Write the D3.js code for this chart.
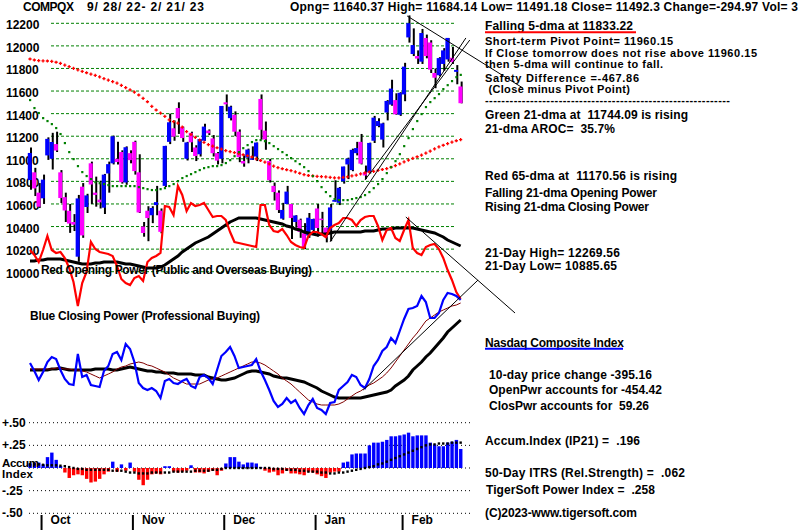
<!DOCTYPE html>
<html><head><meta charset="utf-8">
<script src="https://cdn.jsdelivr.net/npm/d3@7"></script>
<style>
html,body{margin:0;padding:0;background:#fff;}
svg{display:block;}
text{font-family:"Liberation Sans",Arial,sans-serif;font-weight:bold;font-size:12px;fill:#000;}
</style></head><body>
<svg id="c" width="800" height="530"></svg>
<script>
// ---------------- DATA ----------------
const dates = ["9/28","9/29","9/30","10/3","10/4","10/5","10/6","10/7","10/10","10/11",
"10/12","10/13","10/14","10/17","10/18","10/19","10/20","10/21","10/24","10/25",
"10/26","10/27","10/28","10/31","11/1","11/2","11/3","11/4","11/7","11/8",
"11/9","11/10","11/11","11/14","11/15","11/16","11/17","11/18","11/21","11/22",
"11/23","11/25","11/28","11/29","11/30","12/1","12/2","12/5","12/6","12/7",
"12/8","12/9","12/12","12/13","12/14","12/15","12/16","12/19","12/20","12/21",
"12/22","12/23","12/27","12/28","12/29","12/30","1/3","1/4","1/5","1/6",
"1/9","1/10","1/11","1/12","1/13","1/17","1/18","1/19","1/20","1/23",
"1/24","1/25","1/26","1/27","1/30","1/31","2/1","2/2","2/3","2/6",
"2/7","2/8","2/9","2/10","2/13","2/14","2/15","2/16","2/17","2/21"];

const open = [10812,10880,10700,10650,11030,11000,11130,10880,10660,10540,
10440,10133,10753,10573,10960,10700,10638,10567,10870,10960,
11000,11060,10790,11050,11150,10880,10400,10540,10500,10590,
10540,10760,11150,11270,11450,11280,11000,11230,11100,11040,
11160,11250,11180,11050,11000,11500,11360,11390,11240,10980,
11010,11000,11020,11530,11250,10980,10760,10700,10470,10600,
10600,10440,10460,10340,10320,10370,10560,10470,10390,10370,
10620,10610,10800,10950,10900,11050,11150,10880,10880,11160,
11290,11170,11410,11480,11520,11390,11570,12075,11928,11910,
11860,12070,12030,11760,11740,11840,11880,11895,11770,11640.37];

const high = [11100,10920,10785,10860,11190,11230,11240,10900,10700,10600,
10510,10680,10785,10690,10975,10842,10806,10866,10975,11205,
11150,11075,11110,11075,11160,11040,10440,10580,10580,10760,
10560,11115,11400,11340,11500,11285,11150,11240,11120,11175,
11310,11260,11210,11060,11468,11570,11470,11420,11260,11030,
11090,11110,11144,11570,11330,11000,10790,10720,10610,10760,
10600,10500,10470,10430,10520,10470,10600,10530,10390,10600,
10810,10750,10930,11010,11090,11150,11220,10940,11143,11380,
11360,11320,11520,11700,11580,11590,11850,12270,12155,11960,
12150,12100,12050,11800,11900,11980,12070,11990,11830,11684.14];

const low = [10726,10670,10565,10600,10990,10905,11060,10608,10440,10344,
10360,10088,10300,10520,10600,10576,10560,10511,10700,10950,
10950,10780,10770,10960,10860,10520,10310,10270,10430,10500,
10340,10750,11130,11160,11220,11150,10985,11060,10980,11020,
11160,11210,11020,10950,10960,11420,11340,11200,10970,10930,
10960,10990,10980,11170,11080,10790,10630,10520,10460,10600,
10290,10390,10300,10200,10300,10350,10310,10340,10260,10270,
10620,10590,10780,10820,10890,11030,10950,10820,10870,11140,
11280,11100,11340,11470,11390,11380,11510,12029,11910,11840,
11840,11890,11760,11625,11730,11780,11860,11840,11660,11491.18];

const close = [11051.64,10737.51,10575.62,10815.43,11176.41,11148.64,11073.31,10652.41,10542.10,10426.19,
10417.10,10649.15,10321.39,10675.80,10772.40,10680.51,10614.84,10859.72,10952.61,11199.12,
10970.99,10792.68,11102.45,10988.15,10890.85,10524.80,10342.94,10475.25,10564.52,10616.20,
10353.17,11114.15,11323.33,11196.22,11358.41,11183.66,11144.96,11146.06,11024.51,11174.41,
11285.32,11226.36,11049.50,10983.78,11468.00,11482.45,11461.50,11239.94,11014.89,10958.55,
11082.00,11004.62,11143.74,11256.81,11170.89,10810.53,10705.41,10546.03,10547.11,10709.37,
10476.12,10497.86,10353.23,10213.29,10478.09,10466.48,10386.98,10458.76,10305.24,10569.29,
10635.65,10742.63,10931.67,11001.10,11079.16,11095.11,10957.01,10852.27,11140.43,11364.41,
11334.27,11313.36,11512.41,11621.71,11393.81,11584.55,11816.32,12200.82,12006.95,11887.45,
12113.79,11910.52,11789.58,11718.12,11891.79,11960.15,12070.59,11855.83,11787.27,11492.30];

// green 21-dma
const ma21 = [11521,11450,11406,11361,11335,11308,11273,11220,11140,11060,
10998,10936,10883,10848,10821,10794,10785,10777,10768,10759,
10759,10759,10759,10759,10759,10750,10741,10732,10724,10724,
10732,10741,10759,10777,10803,10830,10848,10865,10883,10901,
10918,10927,10936,10936,10945,10963,10989,11024,11060,11095,
11122,11149,11166,11166,11157,11140,11113,11087,11060,11034,
11007,10980,10954,10927,10892,10848,10803,10750,10706,10670,
10644,10635,10635,10635,10644,10653,10662,10679,10706,10741,
10777,10821,10874,10927,10980,11042,11113,11184,11264,11335,
11397,11459,11503,11538,11574,11618,11653,11689,11724,11744.09];

// red 65-dma
const ma65 = [11884,11875,11870,11868,11866,11862,11855,11845,11830,11816,
11800,11787,11775,11762,11750,11738,11725,11710,11697,11684,
11670,11650,11630,11610,11590,11565,11535,11505,11465,11432,
11405,11375,11345,11330,11315,11280,11240,11215,11190,11166,
11145,11126,11112,11098,11085,11072,11063,11054,11045,11036,
11027,11016,11000,10985,10970,10955,10935,10922,10912,10903,
10895,10884,10872,10860,10852,10848,10845,10842,10839,10835,
10831,10831,10835,10840,10848,10856,10866,10875,10883,10889,
10897,10905,10913,10925,10940,10955,10972,10988,11003,11018,
11032,11050,11068,11087,11105,11120,11135,11148,11160,11170.56];

// Red Opening Power (relative units) and its moving average
const openPower = [50,45,38,50,64,50,47,48,42,32,
18,-6,17,28,58,51,48,47,46,44,
34,21,17,15,22,24,19,38,42,44,
47,94,93,85,114,105,89,97,94,95,
97,90,83,84,84,80,68,58,57,56,
55,54,53,95,95,75,69,68,71,65,
58,55,53,52,64,68,68,66,63,72,
75,77,82,82,80,74,80,83,84,84,
74,60,70,72,62,59,70,80,52,47,
45,53,55,56,51,42,30,20,8,1];

const openPowerMA = [39,39,40,40,41,41,41,41,40,39,
38,37,36,36,36,37,37,38,38,38,
38,37,36,36,35,34,33,32,32,32,
33,35,38,41,44,48,51,54,57,59,
61,63,66,69,72,75,78,80,82,82,
82,82,82,81,80,79,78,77,76,74,
73,71,70,68,67,66,65,66,66,67,
68,68,68,68,68,68,68,69,69,69,
70,71,71,71,72,72,72,72,72,71,
70,69,68,67,65,63,60,58,56,54];

// Blue Closing Power (relative units), its 21-dma (maroon) and longer MA (black)
const closePower = [-3,-11,-20,-12,-2,3,1,-10,-19,-24,
-25,6,-17,-15,-25,-26,-27,-11,-6,6,
8,0,16,11,-2,-23,-28,-30,-28,-31,
-38,-21,-19,-23,-24,-21,-19,-26,-28,-17,
-15,-18,-24,-10,4,8,13,4,-8,-7,
-6,-5,1,-11,-20,-30,-41,-47,-44,-38,
-43,-40,-48,-54,-45,-39,-48,-50,-54,-43,
-42,-30,-26,-22,-15,-17,-25,-28,-19,-6,
0,9,13,22,17,29,41,51,52,54,
64,58,42,42,47,60,67,66,64,60];

const closePowerMA21 = [-9,-9,-9,-9,-9,-9,-8,-8,-9,-9,
-10,-10,-11,-12,-14,-16,-18,-16,-14,-12,
-9,-7,-6,-4,-3,-2,-3,-5,-6,-8,
-10,-12,-15,-18,-20,-22,-24,-24,-24,-24,
-22,-20,-19,-18,-16,-14,-12,-10,-8,-6,
-4,-2,-2,-3,-5,-8,-11,-14,-18,-21,
-24,-28,-32,-36,-40,-42,-44,-45,-45,-45,
-45,-44,-42,-39,-36,-33,-31,-28,-25,-23,
-20,-17,-13,-8,-2,4,10,16,22,27,
33,39,42,45,48,50,52,54,55,57];

const closePowerMA = [-10,-10,-10,-10,-10,-9,-9,-8,-9,-10,
-10,-10,-10,-10,-10,-9,-9,-9,-9,-10,
-10,-9,-8,-7,-8,-9,-10,-11,-11,-12,
-12,-13,-13,-13,-14,-14,-14,-14,-15,-15,
-15,-17,-18,-19,-20,-20,-19,-18,-16,-14,
-12,-11,-11,-12,-13,-14,-16,-17,-18,-18,
-19,-20,-21,-22,-24,-26,-28,-31,-33,-35,
-37,-38,-38,-38,-38,-38,-38,-37,-36,-35,
-34,-33,-32,-30,-26,-23,-20,-16,-10,-6,
-2,3,7,12,17,22,28,32,36,40];

// Accumulation Index (IP21) and its moving average
const accum = [0.05,0.06,0.06,0.04,0.12,0.17,0.09,0.02,-0.05,-0.11,
-0.08,-0.07,-0.08,-0.12,-0.16,-0.15,-0.12,-0.07,-0.04,0.07,
-0.04,0.04,-0.03,0.06,-0.04,-0.13,-0.19,-0.13,-0.07,-0.06,
-0.07,0.02,0.02,-0.04,-0.05,-0.04,-0.03,0.03,-0.05,-0.05,
-0.06,-0.04,-0.03,-0.08,-0.03,0.05,0.12,0.12,0.07,0.04,
0.06,0.06,0.05,0.01,-0.03,-0.05,-0.04,-0.08,-0.06,-0.03,
-0.06,-0.06,-0.07,-0.08,-0.04,-0.05,-0.07,-0.09,-0.11,-0.05,
-0.04,-0.04,0.06,0.07,0.15,0.16,0.16,0.16,0.25,0.28,
0.28,0.29,0.31,0.35,0.35,0.36,0.37,0.39,0.35,0.36,
0.36,0.36,0.28,0.26,0.24,0.24,0.28,0.29,0.31,0.21];

const accumMA = [0.04,0.04,0.04,0.035,0.03,0.03,0.03,0.025,0.02,0.01,
0.0,-0.01,-0.01,-0.02,-0.02,-0.02,-0.02,-0.02,-0.02,-0.03,
-0.03,-0.03,-0.04,-0.05,-0.05,-0.06,-0.06,-0.06,-0.05,-0.05,
-0.05,-0.05,-0.05,-0.04,-0.04,-0.04,-0.04,-0.04,-0.03,-0.03,
-0.03,-0.03,-0.02,-0.02,-0.01,0,0,0,0,0,
0,0,0,0,0,0,-0.01,-0.01,-0.01,-0.02,
-0.02,-0.02,-0.03,-0.03,-0.04,-0.04,-0.04,-0.05,-0.05,-0.06,
-0.06,-0.05,-0.05,-0.04,-0.03,-0.02,-0.01,0,0.01,0.02,
0.04,0.05,0.07,0.09,0.11,0.13,0.15,0.17,0.19,0.21,
0.23,0.25,0.26,0.26,0.27,0.27,0.27,0.28,0.28,0.28];

const priceTicks = [12200,12000,11800,11600,11400,11200,11000,10800,10600,10400,10200,10000];
const accumTicks = [0.5,0.25,0,-0.25,-0.5];
const accumTickLabels = ["+.50","+.25","","-.25","-.50"];
const monthTicks = [{m:"Oct",i:3},{m:"Nov",i:24},{m:"Dec",i:45},{m:"Jan",i:66},{m:"Feb",i:86}];

// trend lines as [dayIndex, value] pairs
const priceTrends = [[[86.7,12265],[113.3,11627]],[[69,10265],[100.2,12070]],[[77,10812],[101.1,12052]]];
const opTrend = [[86.4,83],[111.5,-13]];
const cpTrend = [[76.6,-30],[103,80]];

// ---------------- DRAW ----------------
const svg = d3.select("#c");
const x = d3.scaleLinear().domain([0,99]).range([30,460.65]);
const yP = d3.scaleLinear().domain([10000,12200]).range([271.7,23.3]);
const yOP = d3.scaleLinear().domain([-100,100]).range([400,200]);
const yCP = d3.scaleLinear().domain([-100,100]).range([460,260]);
const yA = d3.scaleLinear().domain([-0.5,0.5]).range([513.3,422.7]);

// price gridlines
svg.append("g").selectAll("line").data(priceTicks).join("line")
  .attr("x1",51).attr("x2",454).attr("y1",d=>yP(d)).attr("y2",d=>yP(d))
  .attr("stroke","#008000").attr("stroke-width",1).attr("stroke-dasharray","3,2");
svg.append("g").selectAll("text").data(priceTicks).join("text")
  .attr("x",6).attr("y",d=>yP(d)+6).text(d=>d);

// accum gridlines
svg.append("g").selectAll("line").data(accumTicks).join("line")
  .attr("x1",29).attr("x2",472).attr("y1",d=>yA(d)).attr("y2",d=>yA(d))
  .attr("stroke","#000").attr("stroke-width",1).attr("stroke-dasharray","1,3");

// candles
const cg = svg.append("g");
d3.range(close.length).forEach(i=>{
  const cx = x(i);
  cg.append("line").attr("x1",cx+1).attr("x2",cx+1).attr("y1",yP(high[i])).attr("y2",yP(low[i]))
    .attr("stroke","#000").attr("stroke-width",2);
  const top = yP(Math.max(open[i],close[i])), bot = yP(Math.min(open[i],close[i]));
  cg.append("rect").attr("x",cx-2.2).attr("width",4).attr("y",top).attr("height",Math.max(1.5,bot-top))
    .attr("fill", close[i]>=open[i] ? "#0000ff" : "#ff00ff");
});

// 65-dma red pluses
const pg = svg.append("g");
ma65.forEach((v,i)=>{
  const cx=x(i), cy=yP(v);
  pg.append("path").attr("d",`M${cx-1.6},${cy}H${cx+1.6}M${cx},${cy-1.6}V${cy+1.6}`)
    .attr("stroke","#ff0000").attr("stroke-width",1.3).attr("fill","none");
});
// 21-dma green dots
svg.append("g").selectAll("rect").data(ma21).join("rect")
  .attr("x",(d,i)=>x(i)-1).attr("y",d=>yP(d)-1).attr("width",2.2).attr("height",2.2).attr("fill","#008000");

// opening power
const lineOP = d3.line().x((d,i)=>x(i)).y(d=>yOP(d));
svg.append("path").attr("d",lineOP(openPowerMA)).attr("fill","none").attr("stroke","#000").attr("stroke-width",3);
svg.append("path").attr("d",lineOP(openPower)).attr("fill","none").attr("stroke","#ff0000").attr("stroke-width",2.2);

// closing power
const lineCP = d3.line().x((d,i)=>x(i)).y(d=>yCP(d));
svg.append("path").attr("d",lineCP(closePowerMA)).attr("fill","none").attr("stroke","#000").attr("stroke-width",3);
svg.append("path").attr("d",lineCP(closePowerMA21)).attr("fill","none").attr("stroke","#800000").attr("stroke-width",1);
svg.append("path").attr("d",lineCP(closePower)).attr("fill","none").attr("stroke","#0000ff").attr("stroke-width",2.2);

// trend lines
const tl = svg.append("g").attr("stroke","#000").attr("stroke-width",1);
priceTrends.forEach(t=>tl.append("line").attr("x1",x(t[0][0])).attr("y1",yP(t[0][1])).attr("x2",x(t[1][0])).attr("y2",yP(t[1][1])));
tl.append("line").attr("x1",x(opTrend[0][0])).attr("y1",yOP(opTrend[0][1])).attr("x2",x(opTrend[1][0])).attr("y2",yOP(opTrend[1][1]));
tl.append("line").attr("x1",x(cpTrend[0][0])).attr("y1",yCP(cpTrend[0][1])).attr("x2",x(cpTrend[1][0])).attr("y2",yCP(cpTrend[1][1]));

// accumulation bars
svg.append("g").selectAll("rect").data(accum).join("rect")
  .attr("x",(d,i)=>x(i)-1.6).attr("width",3.4)
  .attr("y",d=>yA(Math.max(d,0))).attr("height",d=>Math.abs(yA(d)-yA(0)))
  .attr("fill",d=>d>=0?"#0000ff":"#ff0000");
svg.append("g").selectAll("rect").data(accumMA).join("rect")
  .attr("x",(d,i)=>x(i)-1.2).attr("y",d=>yA(d)-1.2).attr("width",2.4).attr("height",2.4).attr("fill","#000");

// accum labels
svg.append("g").selectAll("text").data(accumTicks).join("text")
  .attr("x",2).attr("y",d=>yA(d)+4).text((d,i)=>accumTickLabels[i]);
svg.append("text").attr("x",2).attr("y",466.5).style("font-size","11.5px").attr("textLength",37).text("Accum");
svg.append("text").attr("x",2).attr("y",478.3).style("font-size","11.5px").attr("textLength",31).text("Index");

// month ticks
svg.append("g").selectAll("line").data(monthTicks).join("line")
  .attr("x1",d=>x(d.i)-1.5).attr("x2",d=>x(d.i)-1.5).attr("y1",515).attr("y2",530)
  .attr("stroke","#000").attr("stroke-width",2);
svg.append("g").selectAll("text").data(monthTicks).join("text")
  .attr("x",d=>x(d.i)+7.5).attr("y",524).text(d=>d.m);

// panel titles
svg.append("text").attr("x",41).attr("y",274).attr("textLength",271).attr("lengthAdjust","spacing")
  .text("Red Opening Power (Public and Overseas Buying)");
svg.append("text").attr("x",30).attr("y",320).attr("textLength",230).attr("lengthAdjust","spacing")
  .text("Blue Closing Power (Professional Buying)");

// header
svg.append("text").attr("x",23).attr("y",11).attr("textLength",51).text("COMPQX");
svg.append("text").attr("x",87).attr("y",11).attr("textLength",117).attr("lengthAdjust","spacing").text("9/ 28/ 22- 2/ 21/ 23");
svg.append("text").attr("x",290).attr("y",11).attr("textLength",508).attr("lengthAdjust","spacing")
  .text("Opng= 11640.37 High= 11684.14 Low= 11491.18 Close= 11492.3 Change=-294.97 Vol= 3");

// right side notes
const notes = [
 {t:"Falling 5-dma at 11833.22",x:485,y:29.5,w:148,s:12},
 {t:"Short-term Pivot Point= 11960.15",x:485,y:45,w:188,s:11},
 {t:"If Close tomorrow does not rise above 11960.15",x:485,y:56.5,w:272,s:11},
 {t:"then 5-dma will continue to fall.",x:485,y:67.7,w:178,s:11},
 {t:"Safety Difference =-467.86",x:485,y:81.5,w:154,s:11},
 {t:" (Close minus Pivot Point)",x:485,y:93,w:145,s:11},
 {t:"------------------------------------------------------------",x:485,y:103.5,w:245,s:11},
 {t:"Green 21-dma at  11744.09 is rising",x:485,y:119.3,w:203,s:12},
 {t:"21-dma AROC=  35.7%",x:485,y:133.3,w:130,s:12},
 {t:"Red 65-dma at  11170.56 is rising",x:485,y:180,w:192,s:12},
 {t:"Falling 21-dma Opening Power",x:485,y:196.7,w:172,s:12},
 {t:"Rising 21-dma Closing Power",x:485,y:211,w:164,s:12},
 {t:"21-Day High= 12269.56",x:485,y:256.7,w:135,s:12},
 {t:"21-Day Low= 10885.65",x:485,y:270,w:132,s:12},
 {t:"Nasdaq Composite Index",x:485,y:346.7,w:139,s:12},
 {t:"10-day price change -395.16",x:489,y:379.3,w:163,s:12},
 {t:"OpenPwr accounts for -454.42",x:489,y:394.3,w:173,s:12},
 {t:"ClosPwr accounts for  59.26",x:489,y:410,w:160,s:12},
 {t:"Accum.Index (IP21) =  .196",x:485,y:445,w:155,s:12},
 {t:"50-Day ITRS (Rel.Strength) =  .062",x:485,y:476.7,w:200,s:12},
 {t:"TigerSoft Power Index =  .258",x:486,y:494.3,w:169,s:12},
 {t:"(C)2023-www.tigersoft.com",x:485,y:516.7,w:152,s:12}
];
svg.append("g").selectAll("text").data(notes).join("text")
  .attr("x",d=>d.x).attr("y",d=>d.y).attr("textLength",d=>d.w).attr("lengthAdjust","spacing")
  .style("font-size",d=>d.s+"px").style("white-space","pre").text(d=>d.t);
svg.append("line").attr("x1",485).attr("x2",636).attr("y1",32.3).attr("y2",32.3).attr("stroke","#ff0000").attr("stroke-width",2);
svg.append("line").attr("x1",485).attr("x2",623).attr("y1",348.7).attr("y2",348.7).attr("stroke","#0000ff").attr("stroke-width",2);
</script>
</body></html>
